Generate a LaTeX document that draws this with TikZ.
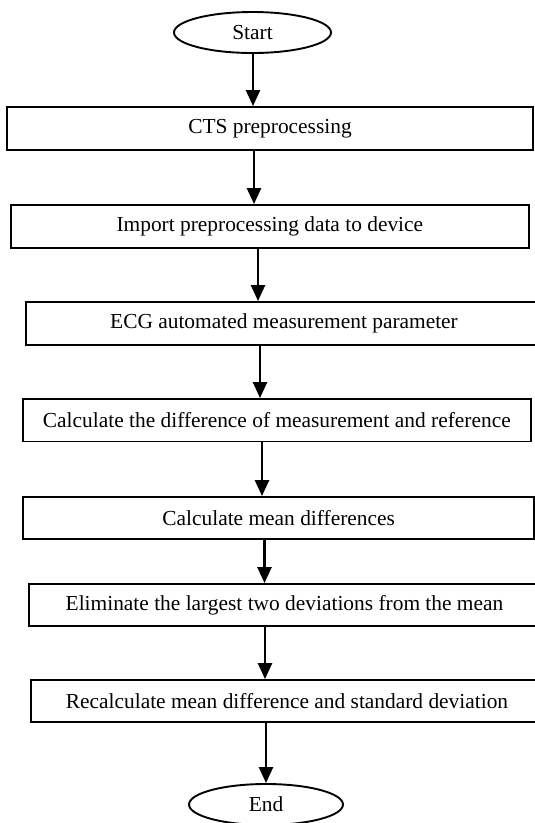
\documentclass[tikz,border=0pt]{standalone}
\usepackage{fontspec}
\setmainfont{Liberation Serif}
\usetikzlibrary{arrows.meta,shapes.geometric}

\tikzset{
  stepbox/.style={draw=black, line width=1.9pt, rectangle, inner sep=0pt,
    minimum height=43pt, align=center, font=\fontsize{21.4}{25}\selectfont},
  terminal/.style={draw=black, line width=1.9pt, ellipse, inner sep=0pt,
    minimum width=157pt, minimum height=41pt, font=\fontsize{21.4}{25}\selectfont},
  flow/.style={line width=2.5pt, -{Triangle[length=16pt,width=14pt]}},
}

\begin{document}
\begin{tikzpicture}[x=1pt,y=-1pt]
  \useasboundingbox (0,0) rectangle (535,823);

  % terminals
  \node[terminal] (start) at (252.5,32.5) {Start};
  \node[terminal, minimum width=154pt] (end) at (266,804.5) {End};

  % processing steps
  \node[stepbox, minimum width=525.4pt] (b1) at (270,128.5) {CTS preprocessing};
  \node[stepbox, minimum width=518.3pt] (b2) at (269.85,226.5) {Import preprocessing data to device};
  \node[stepbox, minimum width=516pt]   (b3) at (284,323.5) {ECG automated measurement parameter};
  \node[stepbox, minimum width=508.3pt, minimum height=42.5pt] (b4) at (276.85,420.25) {Calculate the difference of measurement and reference};
  \node[stepbox, minimum width=511.3pt, minimum height=42pt] (b5) at (278.65,518) {Calculate mean differences};
  \node[stepbox, minimum width=511pt, minimum height=42pt]   (b6) at (284.5,605) {Eliminate the largest two deviations from the mean};
  \node[stepbox, minimum width=512pt, minimum height=42pt]   (b7) at (287,701) {Recalculate mean difference and standard deviation};

  % connectors
  \draw[flow] (start.south -| 253,0) -- (b1.north -| 253,0);
  \draw[flow] (b1.south -| 254,0) -- (b2.north -| 254,0);
  \draw[flow] (b2.south -| 258,0) -- (b3.north -| 258,0);
  \draw[flow] (b3.south -| 260,0) -- (b4.north -| 260,0);
  \draw[flow] (b4.south -| 262,0) -- (b5.north -| 262,0);
  \draw[flow] (b5.south -| 264.5,0) -- (b6.north -| 264.5,0);
  \draw[flow] (b6.south -| 265,0) -- (b7.north -| 265,0);
  \draw[flow] (b7.south -| 266,0) -- (end.north -| 266,0);
\end{tikzpicture}
\end{document}
